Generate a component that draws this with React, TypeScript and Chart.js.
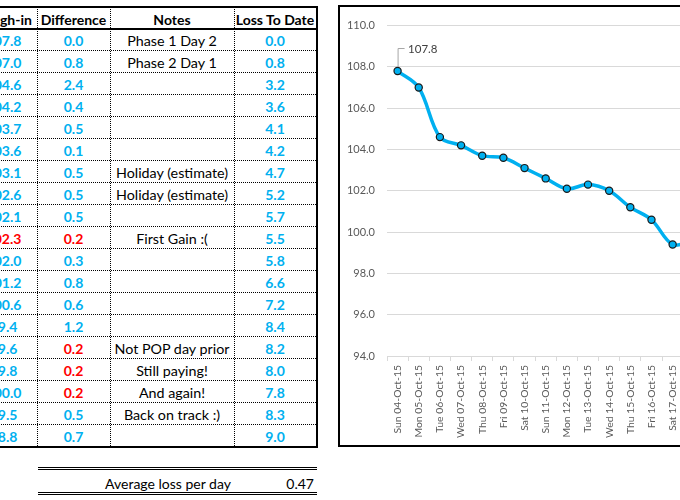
import React, { useEffect, useRef } from "react";
import { Chart, registerables } from "chart.js";

Chart.register(...registerables);

const dates = [
  "Sun 04-Oct-15", "Mon 05-Oct-15", "Tue 06-Oct-15", "Wed 07-Oct-15", "Thu 08-Oct-15",
  "Fri 09-Oct-15", "Sat 10-Oct-15", "Sun 11-Oct-15", "Mon 12-Oct-15", "Tue 13-Oct-15",
  "Wed 14-Oct-15", "Thu 15-Oct-15", "Fri 16-Oct-15", "Sat 17-Oct-15", "Sun 18-Oct-15",
  "Mon 19-Oct-15", "Tue 20-Oct-15", "Wed 21-Oct-15", "Thu 22-Oct-15",
];
const weights = [107.8, 107.0, 104.6, 104.2, 103.7, 103.6, 103.1, 102.6, 102.1, 102.3, 102.0, 101.2, 100.6, 99.4, 99.6, 99.8, 100.0, 99.5, 98.8];
const differences = [0.0, 0.8, 2.4, 0.4, 0.5, 0.1, 0.5, 0.5, 0.5, 0.2, 0.3, 0.8, 0.6, 1.2, 0.2, 0.2, 0.2, 0.5, 0.7];
const notes = [
  "Phase 1 Day 2", "Phase 2 Day 1", "", "", "", "", "Holiday (estimate)", "Holiday (estimate)", "",
  "First Gain :(", "", "", "", "", "Not POP day prior", "Still paying!", "And again!", "Back on track :)", "",
];
const lossToDate = [0.0, 0.8, 3.2, 3.6, 4.1, 4.2, 4.7, 5.2, 5.7, 5.5, 5.8, 6.6, 7.2, 8.4, 8.2, 8.0, 7.8, 8.3, 9.0];
const gainRows = [9, 14, 15, 16];
const redWeightRows = [9];
const headers = ["Weigh-in", "Difference", "Notes", "Loss To Date"];
const averageLabel = "Average loss per day";
const averageValue = "0.47";
const yMin = 94;
const yMax = 110;
const yStep = 2;

const BLUE = "#00B0F0";
const RED = "#FF0000";
const FONT = "Lato, 'Open Sans', sans-serif";

const cols = [
  { left: -30, w: 67 },
  { left: 37, w: 73 },
  { left: 110, w: 124 },
  { left: 234, w: 82 },
];
const TOP = 6;
const ROW = 22;
const HEAD_BOTTOM = 28;

function ChartBox() {
  const ref = useRef<HTMLCanvasElement | null>(null);
  useEffect(() => {
    if (!ref.current) return;
    const labelPlugin = {
      id: "firstLabel",
      afterDatasetsDraw(chart: any) {
        const meta = chart.getDatasetMeta(0);
        const p = meta.data[0];
        if (!p) return;
        const ctx = chart.ctx;
        const x = p.x;
        const y = p.y;
        ctx.save();
        ctx.strokeStyle = "#A6A6A6";
        ctx.lineWidth = 1;
        ctx.beginPath();
        ctx.moveTo(x + 0.5, y - 4);
        ctx.lineTo(x + 0.5, y - 22.5);
        ctx.lineTo(x + 7, y - 22.5);
        ctx.stroke();
        ctx.fillStyle = "#404040";
        ctx.font = "11.5px " + FONT;
        ctx.textAlign = "left";
        ctx.textBaseline = "middle";
        ctx.fillText(weights[0].toFixed(1), x + 10.5, y - 22);
        ctx.restore();
      },
    };
    const chart = new Chart(ref.current, {
      type: "line",
      data: {
        labels: dates,
        datasets: [
          {
            data: weights,
            borderColor: BLUE,
            borderWidth: 3.5,
            tension: 0.35,
            pointRadius: 3.6,
            pointBorderWidth: 1.2,
            pointBorderColor: "#1a1a1a",
            pointBackgroundColor: BLUE,
            fill: false,
          },
        ],
      },
      options: {
        animation: false,
        responsive: false,
        devicePixelRatio: 1,
        layout: { padding: { top: 13, left: 0, right: 21, bottom: 0 } },
        plugins: { legend: { display: false }, tooltip: { enabled: false } },
        scales: {
          x: {
            type: "category",
            offset: true,
            grid: { offset: true, drawOnChartArea: false, drawTicks: true, tickLength: 5, color: "#D9D9D9", lineWidth: 1 },
            border: { display: true, color: "#D9D9D9", width: 1 },
            ticks: {
              autoSkip: false,
              maxRotation: 90,
              minRotation: 90,
              padding: 4,
              color: "#595959",
              font: { family: FONT, size: 10.4 },
            },
            afterFit: (s: any) => {
              s.height = 89;
            },
          },
          y: {
            min: yMin,
            max: yMax,
            ticks: {
              stepSize: yStep,
              padding: 12,
              color: "#595959",
              font: { family: FONT, size: 11 },
              callback: (v: any) => Number(v).toFixed(1),
            },
            grid: { color: "#D9D9D9", drawTicks: false, lineWidth: 1 },
            border: { display: false },
            afterFit: (s: any) => {
              s.width = 47;
            },
          },
        },
      } as any,
      plugins: [labelPlugin],
    });
    return () => chart.destroy();
  }, []);
  return (
    <div
      style={{
        position: "absolute",
        left: 338,
        top: 5,
        width: 470,
        height: 438,
        border: "2px solid #000",
        background: "#fff",
      }}
    >
      <canvas ref={ref} width={470} height={438} style={{ width: 470, height: 438, display: "block" }} />
    </div>
  );
}

function Table() {
  const items: React.ReactNode[] = [];
  const cell = (key: string, c: number, top: number, h: number, text: string, style: React.CSSProperties) => (
    <div
      key={key}
      style={{
        position: "absolute",
        left: cols[c].left,
        top,
        width: cols[c].w,
        height: h,
        display: "flex",
        alignItems: "center",
        justifyContent: "center",
        paddingTop: 2,
        boxSizing: "border-box",
        whiteSpace: "nowrap",
        fontFamily: FONT,
        fontSize: 14,
        ...style,
      }}
    >
      {text}
    </div>
  );
  headers.forEach((h, c) => {
    items.push(cell("h" + c, c, TOP + 1, HEAD_BOTTOM - TOP, h, { fontWeight: 700, color: "#000" }));
  });
  weights.forEach((w, i) => {
    const top = HEAD_BOTTOM + i * ROW;
    const gain = gainRows.includes(i);
    items.push(cell("w" + i, 0, top, ROW, w.toFixed(1), { fontWeight: 700, color: redWeightRows.includes(i) ? RED : BLUE }));
    items.push(cell("d" + i, 1, top, ROW, differences[i].toFixed(1), { fontWeight: 700, color: gain ? RED : BLUE }));
    items.push(cell("n" + i, 2, top, ROW, notes[i], { color: "#000", fontSize: 14.3 }));
    items.push(cell("l" + i, 3, top, ROW, lossToDate[i].toFixed(1), { fontWeight: 700, color: BLUE }));
  });
  const bottom = HEAD_BOTTOM + weights.length * ROW;
  for (let k = 1; k < weights.length; k++) {
    items.push(
      <div key={"hs" + k} style={{ position: "absolute", left: -30, top: HEAD_BOTTOM + k * ROW, width: 346, height: 0, borderTop: "1px dotted #000" }} />
    );
  }
  [37, 110, 234].forEach((x, j) => {
    items.push(
      <div key={"vs" + j} style={{ position: "absolute", left: x, top: TOP, width: 0, height: bottom - TOP, borderLeft: "1px dotted #000" }} />
    );
  });
  items.push(<div key="bt" style={{ position: "absolute", left: -30, top: TOP, width: 348, height: 2, background: "#000" }} />);
  items.push(<div key="bh" style={{ position: "absolute", left: -30, top: HEAD_BOTTOM, width: 348, height: 2, background: "#000" }} />);
  items.push(<div key="bb" style={{ position: "absolute", left: -30, top: bottom, width: 348, height: 2, background: "#000" }} />);
  items.push(<div key="br" style={{ position: "absolute", left: 316, top: TOP, width: 2, height: bottom - TOP + 2, background: "#000" }} />);
  items.push(<div key="s1" style={{ position: "absolute", left: 38, top: 467, width: 279, height: 0, borderTop: "3px double #000" }} />);
  items.push(<div key="s2" style={{ position: "absolute", left: 38, top: 492, width: 279, height: 0, borderTop: "3px double #000" }} />);
  items.push(
    <div key="s3" style={{ position: "absolute", left: 90, top: 471, width: 156, height: 21, display: "flex", alignItems: "center", justifyContent: "center", paddingTop: 3, boxSizing: "border-box", fontFamily: FONT, fontSize: 14, whiteSpace: "nowrap", color: "#000" }}>
      {averageLabel}
    </div>
  );
  items.push(
    <div key="s4" style={{ position: "absolute", left: 250, top: 471, width: 64, height: 21, display: "flex", alignItems: "center", justifyContent: "flex-end", paddingTop: 3, boxSizing: "border-box", fontFamily: FONT, fontSize: 14, whiteSpace: "nowrap", color: "#000" }}>
      {averageValue}
    </div>
  );
  return <>{items}</>;
}

export default function App() {
  return (
    <div style={{ position: "fixed", left: 0, top: 0, width: 680, height: 500, overflow: "hidden", background: "#fff" }}>
      <Table />
      <ChartBox />
    </div>
  );
}
